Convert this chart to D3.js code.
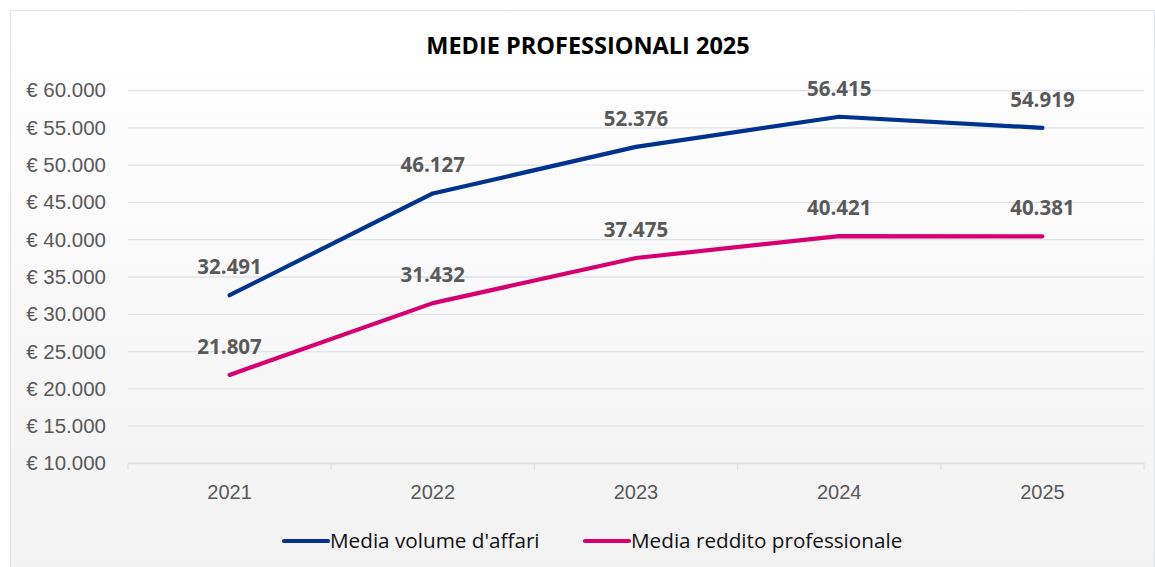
<!DOCTYPE html>
<html>
<head>
<meta charset="utf-8">
<script src="https://cdn.jsdelivr.net/npm/d3@7"></script>
<style>
  html, body { margin: 0; padding: 0; background: #fff; }
  svg { display: block; font-family: "Open Sans", sans-serif; }
</style>
</head>
<body>
<svg id="chart" width="1155" height="567"></svg>
<script>
const years = ['2021', '2022', '2023', '2024', '2025'];
const volumeAffari = [32491, 46127, 52376, 56415, 54919];
const redditoProf = [21807, 31432, 37475, 40421, 40381];
const yTicks = [10000, 15000, 20000, 25000, 30000, 35000, 40000, 45000, 50000, 55000, 60000];
const seriesNames = ["Media volume d'affari", 'Media reddito professionale'];
const seriesColors = ['#00338D', '#D6006E'];

const width = 1155, height = 567;
const margin = { top: 90, right: 11, bottom: 104, left: 128 };

const svg = d3.select('#chart');

// background gradient like the original
const defs = svg.append('defs');
const grad = defs.append('linearGradient')
    .attr('id', 'bg')
    .attr('x1', 0).attr('y1', 0).attr('x2', 0).attr('y2', 1);
grad.append('stop').attr('offset', '0%').attr('stop-color', '#ffffff');
grad.append('stop').attr('offset', '100%').attr('stop-color', '#f2f2f2');

svg.append('rect')
    .attr('x', 10.5).attr('y', 10.5)
    .attr('width', width - 11).attr('height', height - 10)
    .attr('fill', 'url(#bg)')
    .attr('stroke', '#dfe4ec')
    .attr('stroke-width', 1);

const x = d3.scaleBand()
    .domain(years)
    .range([margin.left, width - margin.right]);

const y = d3.scaleLinear()
    .domain([10000, 60000])
    .range([height - margin.bottom, margin.top]);

const fmt = d3.formatLocale({ decimal: ',', thousands: '.', grouping: [3], currency: ['€ ', ''] });
const tickFmt = fmt.format('$,.0f');
const labelFmt = fmt.format(',.0f');

// title
svg.append('text')
    .attr('x', 588)
    .attr('y', 54)
    .attr('text-anchor', 'middle')
    .style('font-weight', 'bold')
    .style('font-size', '23.5px')
    .attr('fill', '#000')
    .text('MEDIE PROFESSIONALI 2025');

// gridlines
const yAxis = d3.axisLeft(y)
    .tickValues(yTicks)
    .tickSize(-(width - margin.left - margin.right))
    .tickPadding(22)
    .tickFormat(tickFmt);

const gy = svg.append('g')
    .attr('transform', 'translate(' + margin.left + ',0)')
    .call(yAxis);
gy.select('.domain').remove();
gy.selectAll('line').attr('stroke', '#dde3ea').attr('stroke-width', 1.3);
gy.selectAll('text')
    .attr('fill', '#595959')
    .style('font-size', '20.5px')
    .attr('dy', '0.34em');

// x axis
const xAxis = d3.axisBottom(x).tickSize(0).tickPadding(22);
const gx = svg.append('g')
    .attr('transform', 'translate(0,' + (height - margin.bottom) + ')')
    .call(xAxis);
gx.select('.domain').attr('stroke', '#dde3ea').attr('stroke-width', 1.3);
gx.selectAll('text')
    .attr('fill', '#595959')
    .style('font-size', '20px');

// small tick marks at the band boundaries
gx.selectAll('line.bound')
    .data(years.concat(['end']))
    .enter().append('line')
    .attr('class', 'bound')
    .attr('x1', (d, i) => i < years.length ? x(d) : x.range()[1])
    .attr('x2', (d, i) => i < years.length ? x(d) : x.range()[1])
    .attr('y1', 0)
    .attr('y2', 7)
    .attr('stroke', '#dde3ea')
    .attr('stroke-width', 1.3);

const line = d3.line()
    .x((d, i) => x(years[i]) + x.bandwidth() / 2)
    .y(d => y(d));

const series = [volumeAffari, redditoProf];

series.forEach((vals, s) => {
    svg.append('path')
        .datum(vals)
        .attr('fill', 'none')
        .attr('stroke', seriesColors[s])
        .attr('stroke-width', 4.2)
        .attr('stroke-linecap', 'round')
        .attr('stroke-linejoin', 'round')
        .attr('d', line);

    svg.append('g').selectAll('text')
        .data(vals)
        .enter().append('text')
        .attr('x', (d, i) => x(years[i]) + x.bandwidth() / 2)
        .attr('y', d => y(d) - 21)
        .attr('text-anchor', 'middle')
        .attr('fill', '#595959')
        .style('font-weight', 'bold')
        .style('font-size', '20.5px')
        .text(d => labelFmt(d));
});

// legend
const legendX = [282, 583];
const legend = svg.append('g').attr('transform', 'translate(0,541)');
seriesNames.forEach((name, s) => {
    legend.append('line')
        .attr('x1', legendX[s] + 2).attr('x2', legendX[s] + 46)
        .attr('y1', 0).attr('y2', 0)
        .attr('stroke', seriesColors[s])
        .attr('stroke-width', 4.2)
        .attr('stroke-linecap', 'round');
    legend.append('text')
        .attr('x', legendX[s] + 48)
        .attr('y', 0)
        .attr('dy', '0.35em')
        .attr('fill', '#111')
        .style('font-size', '20.7px')
        .text(name);
});
</script>
</body>
</html>
